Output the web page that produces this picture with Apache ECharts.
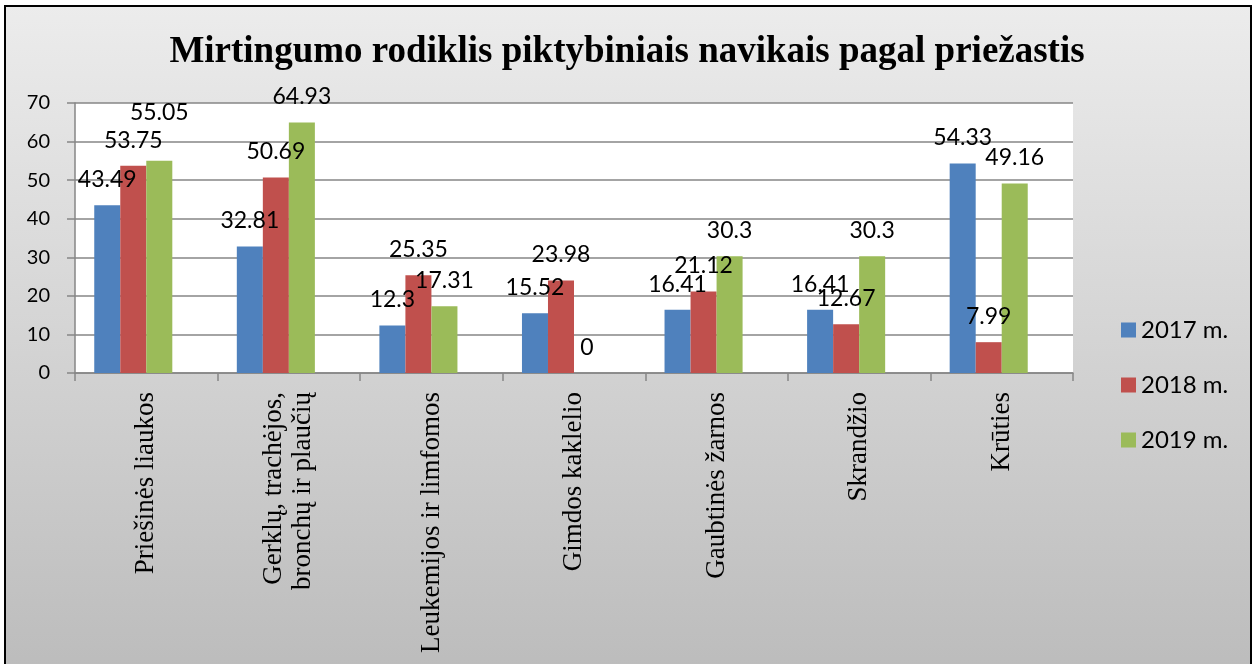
<!DOCTYPE html>
<html>
<head>
<meta charset="utf-8">
<script src="https://cdn.jsdelivr.net/npm/echarts@6/dist/echarts.min.js"></script>
<style>
  html, body { margin: 0; padding: 0; background: #fff; }
  #chart { width: 1254px; height: 664px; }
</style>
</head>
<body>
<div id="chart"></div>
<script>
// duomenys
const categories = [
  'Priešinės liaukos',
  'Gerklų, trachėjos,\nbronchų ir plaučių',
  'Leukemijos ir limfomos',
  'Gimdos kaklelio',
  'Gaubtinės žarnos',
  'Skrandžio',
  'Krūties'
]
const seriesNames = ['2017 m.', '2018 m.', '2019 m.']
const values2017 = [43.49, 32.81, 12.3, 15.52, 16.41, 16.41, 54.33]
const values2018 = [53.75, 50.69, 25.35, 23.98, 21.12, 12.67, 7.99]
const values2019 = [55.05, 64.93, 17.31, 0, 30.3, 30.3, 49.16]
const yTicks = [0, 10, 20, 30, 40, 50, 60, 70]

const colors = ['#4f81bd', '#c0504d', '#9bbb59']
const allValues = [values2017, values2018, values2019]

const chart = echarts.init(document.getElementById('chart'))

const labelFont = { fontFamily: 'Lato', fontSize: 23, color: '#000' }

const series = allValues.map((vals, i) => ({
  name: seriesNames[i],
  type: 'bar',
  barGap: 0,
  barCategoryGap: '27%',
  itemStyle: { color: colors[i] },
  label: {
    show: true,
    position: 'top',
    distance: 14,
    ...labelFont
  },
  // Excel'yje perkelta viena etiketė (55.05)
  data: vals.map((v, j) => (i === 2 && j === 0 ? { value: v, label: { offset: [0, -23] } } : v))
}))
// tuščia ketvirta serija kaip originale (vieta grupėje)
series.push({ name: 'tuscia', type: 'bar', data: [] })

const option = {
  animation: false,
  backgroundColor: '#fff',
  graphic: [
    {
      type: 'rect',
      z: -10,
      shape: { x: 5, y: 6, width: 1246, height: 680 },
      style: {
        fill: {
          type: 'linear', x: 0, y: 0, x2: 0, y2: 1,
          colorStops: [
            { offset: 0, color: '#ececec' },
            { offset: 1, color: '#bbbbbb' }
          ]
        },
        stroke: '#000',
        lineWidth: 2
      }
    }
  ],
  title: {
    text: 'Mirtingumo rodiklis piktybiniais navikais pagal priežastis',
    left: 'center',
    top: 29,
    textStyle: {
      fontFamily: 'Liberation Serif',
      fontWeight: 'bold',
      fontSize: 37,
      color: '#000'
    }
  },
  legend: {
    data: seriesNames,
    orient: 'vertical',
    left: 1116,
    top: 313,
    itemWidth: 15,
    itemHeight: 15,
    itemGap: 31,
    icon: 'rect',
    textStyle: { fontFamily: 'Lato', fontSize: 24, color: '#000', lineHeight: 16 }
  },
  grid: {
    left: 75,
    right: 181,
    top: 103,
    bottom: 291,
    show: true,
    backgroundColor: '#fff',
    borderWidth: 0
  },
  xAxis: {
    type: 'category',
    data: categories,
    axisLine: { lineStyle: { color: '#868686', width: 1.5 } },
    axisTick: { show: true, length: 8, lineStyle: { color: '#868686', width: 1.5 } },
    axisLabel: {
      interval: 0,
      rotate: 90,
      margin: 19,
      fontFamily: 'Liberation Serif',
      fontSize: 27,
      lineHeight: 29,
      color: '#000'
    }
  },
  yAxis: {
    type: 'value',
    min: yTicks[0],
    max: yTicks[yTicks.length - 1],
    interval: 10,
    axisLine: { show: true, lineStyle: { color: '#868686', width: 1.5 } },
    axisTick: { show: true, length: 8, lineStyle: { color: '#868686', width: 1.5 } },
    splitLine: { lineStyle: { color: '#868686', width: 1.5 } },
    axisLabel: { margin: 25, fontFamily: 'Lato', fontSize: 20, color: '#000' }
  },
  series: series
}

chart.setOption(option)
</script>
</body>
</html>
